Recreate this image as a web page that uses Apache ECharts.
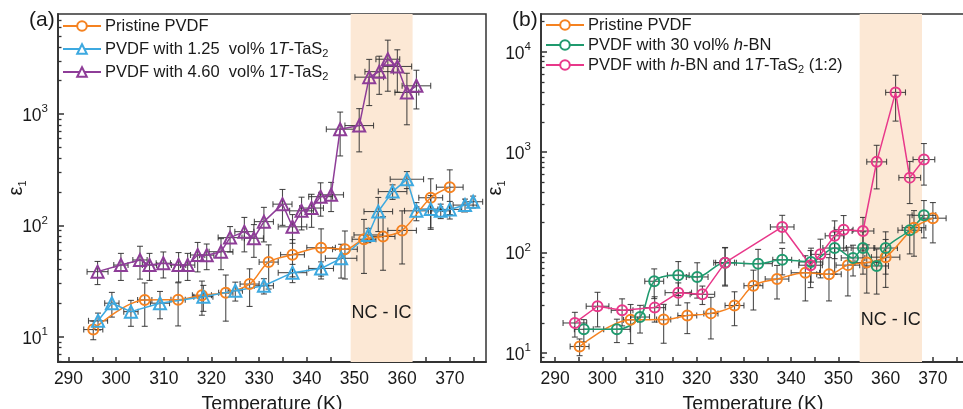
<!DOCTYPE html>
<html><head><meta charset="utf-8">
<script src="https://cdn.jsdelivr.net/npm/echarts@6/dist/echarts.min.js"></script>
<style>html,body{margin:0;padding:0;background:#fff}#c{width:963px;height:409px}</style>
</head><body><div id="c"></div><script>
// ---------- data ----------
// Pristine PVDF (same in both panels)
const pristineT = [295.2, 306, 313, 318, 323, 328, 332, 337, 343, 348, 352, 356, 360, 366, 370];
const pristineV = [11.6, 21.4, 21.5, 23.6, 24.8, 29.7, 46.8, 54.5, 63, 61, 75, 79.5, 90, 177, 220];
const pristineYE = [2.2, 9, 9, 8, 11, 11, 20, 20, 30, 28, 38, 40, 45, 85, 95];
const pristineXE = [2, 1.5, 1.5, 2, 1.5, 2, 2, 2.5, 3, 2.6, 2.5, 2.5, 3, 2.5, 2.8];

// PVDF with 1.25 vol% 1T-TaS2
const ta125T = [296.2, 299.1, 303.1, 309.2, 318.3, 325, 331, 337, 343, 347.2, 352.9, 355, 358, 361, 363, 366, 368.1, 370, 373.2, 374.9];
const ta125V = [13.9, 20, 16.8, 20, 22.9, 25.9, 28.7, 37.6, 41, 50.6, 82, 133, 201, 259, 135, 140, 135, 139, 152, 163];
const ta125YE = [2.4, 5, 4.4, 5.5, 6, 5, 4.5, 7, 6, 17, 12, 45, 30, 45, 25, 45, 20, 25, 20, 20];
const ta125XE = [2, 1.5, 1.5, 2, 2, 1.5, 2, 3, 2.6, 3.3, 3, 3, 3, 3.5, 2.5, 2.5, 2, 2.5, 2.5, 2];

// PVDF with 4.60 vol% 1T-TaS2
const ta460T = [296.1, 301, 305, 307, 309.9, 313.1, 315, 317.1, 319, 322, 323.9, 326.9, 328.9, 331, 334.9, 337, 338.9, 341, 342.9, 345.1, 347, 351, 353.1, 355.2, 357, 359, 361, 363];
const ta460V = [38.4, 44, 48.9, 44, 45.7, 44, 44, 54.2, 54, 58, 77.6, 87.8, 76.6, 108, 155, 97, 135, 143, 181, 188, 730, 787, 2140, 2400, 3100, 2670, 1560, 1790];
const ta460YE = [9, 12, 16, 12, 12, 13, 12, 16, 14, 18, 20, 30, 25, 37, 55, 28, 44, 47, 60, 55, 310, 330, 950, 900, 1500, 1100, 760, 680];
const ta460XE = [2.2, 1.5, 1.5, 1.5, 1.5, 1.5, 1.5, 1.5, 1.5, 2.5, 2.5, 2, 2, 2, 2, 3, 2.5, 2.5, 2.5, 2.6, 2.9, 3, 3, 3, 2.5, 3, 2.5, 3];

// PVDF with 30 vol% h-BN
const bnT = [296.1, 303.1, 308, 311, 316.1, 320.1, 326, 333, 338.1, 344.2, 349.2, 353.1, 355.2, 358.1, 360, 365.1, 368.1];
const bnV = [17.2, 17.2, 22.8, 51.8, 59.4, 57.2, 79.4, 77.6, 85, 80.7, 111, 88.5, 111, 73.6, 111, 167, 235];
const bnYE = [4.3, 4.5, 7, 17, 22, 22, 32, 30, 25, 30, 50, 30, 50, 35, 50, 70, 95];
const bnXE = [2, 2.8, 2, 2, 2.3, 2.3, 2, 3, 2, 2.5, 2.5, 2.5, 2.5, 2.5, 2.5, 2.5, 2.5];

// PVDF with h-BN and 1T-TaS2 (1:2)
const mixT = [294.2, 299, 304.2, 311.1, 316.1, 321.2, 326, 338.1, 344.1, 346.2, 349.2, 351.1, 355.2, 358.1, 362.1, 365.1, 368.1];
const mixV = [19.9, 29.2, 26.6, 28.3, 39.9, 38.4, 79.4, 180, 74.8, 96, 147, 169, 164, 801, 3940, 558, 845];
const mixYE = [5.5, 11, 8, 8, 10, 8, 33, 55, 30, 40, 60, 65, 60, 370, 1900, 250, 375];
const mixXE = [2.5, 2.4, 2.3, 2.3, 2.8, 2.6, 2.4, 2.5, 2.5, 2, 2, 2, 2.3, 2.1, 2.1, 2.3, 2.3];

// shaded NC - IC regions
const regionA = [349.2, 362.2];
const regionB = [354.5, 367.7];

// ticks
const xLabelVals = [290, 300, 310, 320, 330, 340, 350, 360, 370];
const xTickVals = [290, 295, 300, 305, 310, 315, 320, 325, 330, 335, 340, 345, 350, 355, 360, 365, 370, 375];
const yMajorA = [10, 100, 1000];
const yMajorB = [10, 100, 1000, 10000];
const yMinorAll = [6, 7, 8, 9, 20, 30, 40, 50, 60, 70, 80, 90, 200, 300, 400, 500, 600, 700, 800, 900, 2000, 3000, 4000, 5000, 6000, 7000, 8000, 9000, 20000];

// ---------- styling ----------
const FONT = 'Liberation Sans, Arial, sans-serif';
const TXT = '#1a1a1a';
const AX = '#333';
const C = {orange: '#F58220', blue: '#3DA9E0', purple: '#8E3D98', green: '#1F9A6E', pink: '#E8388A'};

const chart = echarts.init(document.getElementById('c'), null, {renderer: 'canvas'});

function xAxisCfg(gi, min, max) {
  return {
    type: 'value', gridIndex: gi, min: min, max: max,
    name: 'Temperature (K)', nameLocation: 'middle', nameGap: 33, nameMoveOverlap: false,
    nameTextStyle: {fontSize: 19.5, color: TXT, fontFamily: FONT},
    axisLine: {show: true, lineStyle: {color: AX, width: 1.8}},
    axisTick: {show: true, inside: true, length: 5, customValues: xTickVals, lineStyle: {color: AX, width: 1.5}},
    axisLabel: {customValues: xLabelVals, fontSize: 17.5, color: TXT, fontFamily: FONT, margin: 8},
    splitLine: {show: false}
  };
}
function yAxisCfg(gi, min, max, majors, gap) {
  return {
    type: 'log', gridIndex: gi, min: min, max: max, position: 'left',
    name: '{e|ε}{s|1}', nameLocation: 'middle', nameGap: gap, nameMoveOverlap: false,
    nameTextStyle: {fontSize: 20, color: TXT, fontFamily: FONT,
      rich: {e: {fontSize: 20, fontFamily: FONT, color: TXT, lineHeight: 24, verticalAlign: 'middle'},
             s: {fontSize: 11, fontFamily: FONT, color: TXT, lineHeight: 24, verticalAlign: 'bottom'}}},
    axisLine: {show: true, lineStyle: {color: AX, width: 1.8}},
    axisTick: {show: true, inside: true, length: 6, customValues: majors, lineStyle: {color: AX, width: 1.5}},
    axisLabel: {customValues: majors, margin: 10, color: TXT, fontFamily: FONT, fontSize: 17.5,
      formatter: v => '{b|10}{p|' + Math.round(Math.log10(v)) + '}',
      rich: {b: {fontSize: 17.5, fontFamily: FONT, color: TXT, lineHeight: 22, verticalAlign: 'bottom'},
             p: {fontSize: 11.5, fontFamily: FONT, color: TXT, lineHeight: 22, verticalAlign: 'top'}}},
    splitLine: {show: false}
  };
}
function yMinorCfg(gi, min, max) {
  return {
    type: 'log', gridIndex: gi, min: min, max: max, position: 'left',
    axisLine: {show: false}, axisLabel: {show: false}, splitLine: {show: false},
    axisTick: {show: true, inside: true, length: 3.5, customValues: yMinorAll.filter(v => v > min && v < max), lineStyle: {color: AX, width: 1.3}}
  };
}

function pairs(T, V) { return T.map((t, i) => [t, V[i]]); }
function errData(T, V, XE, YE) { return T.map((t, i) => [t, V[i], XE[i], YE[i]]); }

function renderErr(params, api) {
  const x = api.value(0), y = api.value(1), xe = api.value(2), ye = api.value(3);
  const c = api.coord([x, y]);
  const top = api.coord([x, y + ye]);
  const bot = api.coord([x, Math.max(y - ye, 1e-3)]);
  const l = api.coord([x - xe, y]);
  const r = api.coord([x + xe, y]);
  const cap = 3;
  const st = {stroke: '#2e2e2e', lineWidth: 1.1, opacity: 0.85};
  const L = (x1, y1, x2, y2) => ({type: 'line', shape: {x1, y1, x2, y2}, style: st});
  return {type: 'group', children: [
    L(c[0], top[1], c[0], bot[1]),
    L(c[0] - cap, top[1], c[0] + cap, top[1]),
    L(c[0] - cap, bot[1], c[0] + cap, bot[1]),
    L(l[0], c[1], r[0], c[1]),
    L(l[0], c[1] - cap, l[0], c[1] + cap),
    L(r[0], c[1] - cap, r[0], c[1] + cap)
  ]};
}

function errSeries(gi, T, V, XE, YE) {
  return {type: 'custom', xAxisIndex: gi, yAxisIndex: gi * 2, data: errData(T, V, XE, YE),
    renderItem: renderErr, clip: true, z: 3, silent: true, encode: {x: 0, y: 1}};
}
function lineSeries(gi, name, T, V, color, symbol, size, smooth) {
  return {
    type: 'line', name: name, xAxisIndex: gi, yAxisIndex: gi * 2, data: pairs(T, V),
    symbol: symbol, symbolSize: size, smooth: smooth, z: 5,
    lineStyle: {color: color, width: 1.5},
    itemStyle: {color: 'rgba(255,255,255,0)', borderColor: color, borderWidth: 2},
    emphasis: {disabled: true}, animation: false
  };
}
function areaCfg(range, dist) {
  return {
    silent: true,
    itemStyle: {color: '#FCE8D5'},
    label: {show: true, position: 'insideBottom', distance: dist, formatter: 'NC - IC', fontSize: 18, color: TXT, fontFamily: FONT},
    data: [[{xAxis: range[0]}, {xAxis: range[1]}]]
  };
}

const legendRich = {
  i: {fontStyle: 'italic', fontSize: 16.5, fontFamily: FONT, color: TXT, lineHeight: 20},
  s: {fontSize: 11, fontFamily: FONT, color: TXT, lineHeight: 20, verticalAlign: 'bottom', padding: [6, 0, 0, 0]},
  n: {fontSize: 16.5, fontFamily: FONT, color: TXT, lineHeight: 20}
};
const legendFmt = {
  'Pristine PVDF': '{n|Pristine PVDF}',
  'PVDF with 1.25  vol% 1T-TaS2': '{n|PVDF with 1.25  vol% 1}{i|T}{n|-TaS}{s|2}',
  'PVDF with 4.60  vol% 1T-TaS2': '{n|PVDF with 4.60  vol% 1}{i|T}{n|-TaS}{s|2}',
  'PVDF with 30 vol% h-BN': '{n|PVDF with 30 vol% }{i|h}{n|-BN}',
  'PVDF with h-BN and 1T-TaS2 (1:2)': '{n|PVDF with }{i|h}{n|-BN and 1}{i|T}{n|-TaS}{s|2}{n| (1:2)}'
};
function legendCfg(names, left, top, gap) {
  return {
    orient: 'vertical', left: left, top: top, itemWidth: 38, itemHeight: 12, itemGap: gap,
    padding: 0, selectedMode: false,
    data: names.map(n => ({name: n, itemStyle: {color: '#fff'}})),
    formatter: n => legendFmt[n],
    textStyle: {fontSize: 16.5, fontFamily: FONT, color: TXT, lineHeight: 20, rich: legendRich, padding: [0, 0, 0, -1]}
  };
}

const yA = [5.93, 7900], yB = [8.13, 23800];

chart.setOption({
  animation: false,
  backgroundColor: '#fff',
  textStyle: {fontFamily: FONT},
  grid: [
    {left: 58, right: 477, top: 14, bottom: 47, show: true, borderColor: AX, borderWidth: 1.5, backgroundColor: 'transparent', outerBoundsMode: 'none', containLabel: false},
    {left: 541, right: -2, top: 14, bottom: 47, show: true, borderColor: AX, borderWidth: 1.5, backgroundColor: 'transparent', outerBoundsMode: 'none', containLabel: false}
  ],
  xAxis: [xAxisCfg(0, 287.8, 377.6), xAxisCfg(1, 287.03, 376.8)],
  yAxis: [yAxisCfg(0, yA[0], yA[1], yMajorA, 30), yMinorCfg(0, yA[0], yA[1]),
          yAxisCfg(1, yB[0], yB[1], yMajorB, 34), yMinorCfg(1, yB[0], yB[1])],
  legend: [
    legendCfg(['Pristine PVDF', 'PVDF with 1.25  vol% 1T-TaS2', 'PVDF with 4.60  vol% 1T-TaS2'], 62, 16, 3),
    legendCfg(['Pristine PVDF', 'PVDF with 30 vol% h-BN', 'PVDF with h-BN and 1T-TaS2 (1:2)'], 545, 15, 0)
  ],
  graphic: [
    {type: 'text', left: 29, top: 10, style: {text: '(a)', fontSize: 21, fontFamily: FONT, fill: TXT}},
    {type: 'text', left: 512, top: 10, style: {text: '(b)', fontSize: 21, fontFamily: FONT, fill: TXT}}
  ],
  series: [
    // panel (a)
    {type: 'line', xAxisIndex: 0, yAxisIndex: 0, data: [], markArea: areaCfg(regionA, 40), z: 1, silent: true},
    errSeries(0, pristineT, pristineV, pristineXE, pristineYE),
    errSeries(0, ta125T, ta125V, ta125XE, ta125YE),
    errSeries(0, ta460T, ta460V, ta460XE, ta460YE),
    lineSeries(0, 'Pristine PVDF', pristineT, pristineV, C.orange, 'circle', 10, 0.35),
    lineSeries(0, 'PVDF with 1.25  vol% 1T-TaS2', ta125T, ta125V, C.blue, 'triangle', 12, false),
    lineSeries(0, 'PVDF with 4.60  vol% 1T-TaS2', ta460T, ta460V, C.purple, 'triangle', 12, false),
    // panel (b)
    {type: 'line', xAxisIndex: 1, yAxisIndex: 2, data: [], markArea: areaCfg(regionB, 33), z: 1, silent: true},
    errSeries(1, pristineT, pristineV, pristineXE, pristineYE),
    errSeries(1, bnT, bnV, bnXE, bnYE),
    errSeries(1, mixT, mixV, mixXE, mixYE),
    lineSeries(1, 'Pristine PVDF', pristineT, pristineV, C.orange, 'circle', 10, 0.35),
    lineSeries(1, 'PVDF with 30 vol% h-BN', bnT, bnV, C.green, 'circle', 10, 0.35),
    lineSeries(1, 'PVDF with h-BN and 1T-TaS2 (1:2)', mixT, mixV, C.pink, 'circle', 10, false)
  ]
});
</script></body></html>
